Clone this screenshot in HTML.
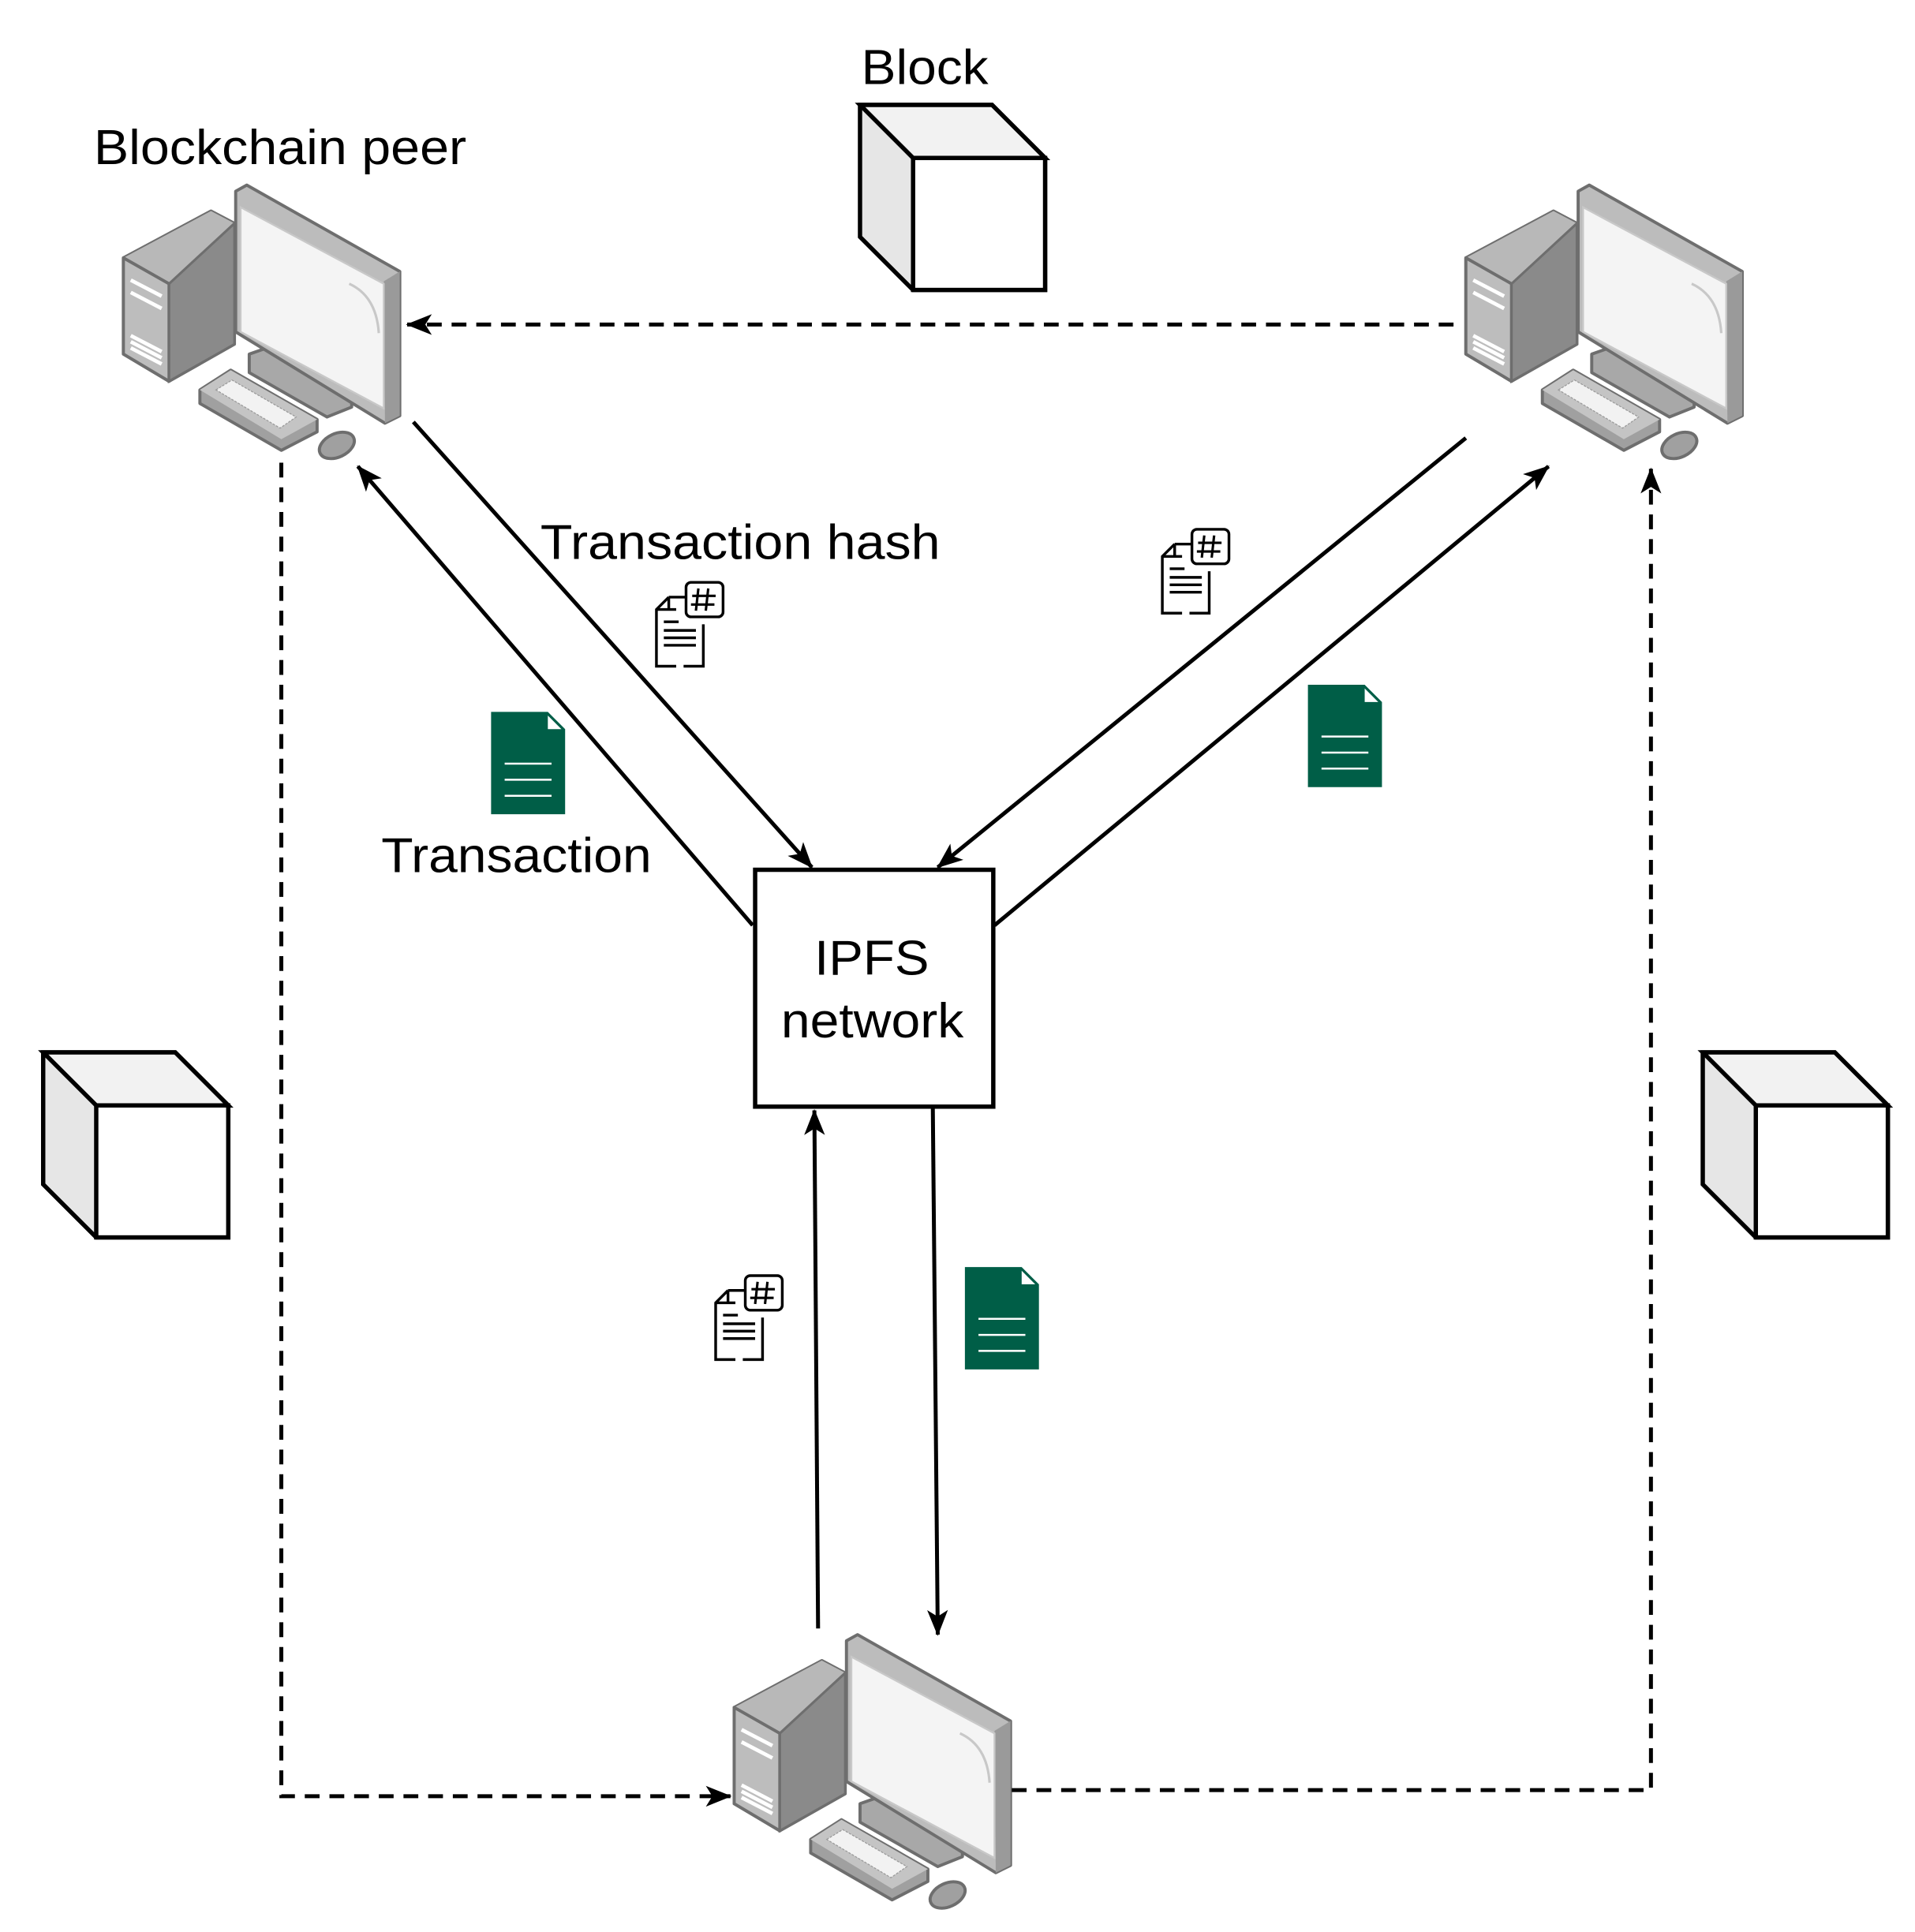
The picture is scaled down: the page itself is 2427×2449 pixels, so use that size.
<!DOCTYPE html>
<html><head><meta charset="utf-8"><style>html,body{margin:0;padding:0;background:#fff}svg{display:block}</style></head><body>
<svg width="2427" height="2449" viewBox="0 0 1552 1566" xmlns="http://www.w3.org/2000/svg" font-family="Liberation Sans, sans-serif">
<defs>
<marker id="ah" viewBox="0 0 20 16" refX="19" refY="8" markerWidth="21" markerHeight="17" markerUnits="userSpaceOnUse" orient="auto" overflow="visible">
<path d="M0,0 L20,8 L0,16 L5,8 Z" fill="#000"/>
</marker>
<g id="pc">
<path d="M0,59 L71,21 L90,31 L90,129 L37,159 L0,137 Z" fill="#8c8c8c" stroke="#6e6e6e" stroke-width="2.5" stroke-linejoin="round"/>
<path d="M0,59 L71,21 L90,31 L37,80 Z" fill="#b8b8b8"/>
<path d="M0,59 L37,80 L37,159 L0,137 Z" fill="#bdbdbd" stroke="#6e6e6e" stroke-width="2.5" stroke-linejoin="round"/>
<path d="M37,80 L90,31 L90,129 L37,159 Z" fill="#8a8a8a" stroke="#6e6e6e" stroke-width="2"/>
<g stroke="#fff" stroke-width="3"><path d="M6,77 L31,90"/><path d="M6,87 L31,100"/><path d="M6,122 L31,135"/><path d="M6,127 L31,140"/><path d="M6,132 L31,145"/></g>
<path d="M102,137 L122,130 L185,167 L185,180 L165,188 L102,152 Z" fill="#a8a8a8" stroke="#6e6e6e" stroke-width="2.5" stroke-linejoin="round"/>
<path d="M91,5 L100,0 L224,70 L224,187 L212,193 L91,119 Z" fill="#bcbcbc" stroke="#6e6e6e" stroke-width="2.5" stroke-linejoin="round"/>
<path d="M211,78 L224,70 L224,187 L212,193 Z" fill="#9a9a9a"/>
<path d="M95,18 L211,80 L211,181 L95,119 Z" fill="#f4f4f4" stroke="#c8c8c8" stroke-width="1.5"/>
<path d="M183,80 Q205,90 207,120" fill="none" stroke="#c8c8c8" stroke-width="2"/>
<path d="M62,166 L87,150 L157,190 L157,200 L128,215 L62,177 Z" fill="#a0a0a0" stroke="#6e6e6e" stroke-width="2.5" stroke-linejoin="round"/>
<path d="M62,166 L87,150 L157,190 L128,206 Z" fill="#c4c4c4"/>
<path d="M75,166 L88,158 L140,188 L127,197 Z" fill="#f2f2f2" stroke="#9a9a9a" stroke-width="0.8" stroke-dasharray="2 1"/>
<ellipse cx="173" cy="211" rx="15" ry="9.5" transform="rotate(-25 173 211)" fill="#a0a0a0" stroke="#6e6e6e" stroke-width="2.5"/>
</g>
<g id="hd" fill="none" stroke="#000" stroke-width="2.2">
<path d="M14,14 L4,24 L4,70 L20,70 M26,70 L42,70 L42,36"/>
<path d="M14,14 L14,24 L4,24 M14,14 L28,14 M14,24 L20,24"/>
<rect x="28" y="2" width="30" height="28" rx="4" fill="#fff"/>
<path d="M38,7 L36,25 M46,7 L44,25 M33,13 L52,13 M32,20 L51,20" stroke-width="2"/>
<path d="M10,34 L22,34 M10,41 L36,41 M10,47 L36,47 M10,53 L36,53"/>
</g>
<g id="gd">
<path d="M0,0 L46,0 L60,14 L60,83 L0,83 Z" fill="#005e47"/>
<path d="M46,3 L57,14 L46,14 Z" fill="#fff"/>
<g stroke="#fff" stroke-width="1.6"><path d="M11,42 L49,42 M11,55 L49,55 M11,68 L49,68"/></g>
</g>
<g id="cube" stroke="#000" stroke-width="3.5" stroke-linejoin="miter">
<path d="M0,0 L107,0 L150,43 L150,150 L43,150 L0,107 Z" fill="#e6e6e6"/>
<path d="M0,0 L107,0 L150,43 L43,43 Z" fill="#f2f2f2"/>
<rect x="43" y="43" width="107" height="107" fill="#fff"/>
</g>
</defs>
<use href="#pc" x="100" y="150"/>
<use href="#pc" x="1188" y="150"/>
<use href="#pc" x="595" y="1325"/>
<use href="#cube" x="697" y="85"/>
<use href="#cube" x="35" y="853"/>
<use href="#cube" x="1380" y="853"/>
<rect x="612" y="705" width="193" height="192" fill="#fff" stroke="#000" stroke-width="3.5"/>
<text x="660" y="790" font-size="40" textLength="93" lengthAdjust="spacingAndGlyphs">IPFS</text>
<text x="633" y="841" font-size="40" textLength="148" lengthAdjust="spacingAndGlyphs">network</text>
<g stroke="#000" stroke-width="3.2" fill="none" marker-end="url(#ah)">
<path d="M335,342 L658,703"/>
<path d="M610,750 L290,378"/>
<path d="M1188,355 L760,703"/>
<path d="M806,750 L1255,378"/>
<path d="M663,1320 L660,900"/>
<path d="M756,898 L760,1325"/>
</g>
<g stroke="#000" stroke-width="3.2" fill="none" stroke-dasharray="12 8" marker-end="url(#ah)">
<path d="M1178,263 L330,263"/>
<path d="M228,375 L228,1456 L592,1456"/>
<path d="M820,1451 L1338,1451 L1338,380"/>
</g>
<text x="76" y="133" font-size="40" textLength="302" lengthAdjust="spacingAndGlyphs">Blockchain peer</text>
<text x="698" y="68" font-size="40" textLength="103" lengthAdjust="spacingAndGlyphs">Block</text>
<text x="438" y="453" font-size="40" textLength="324" lengthAdjust="spacingAndGlyphs">Transaction hash</text>
<text x="309" y="707" font-size="40" textLength="219" lengthAdjust="spacingAndGlyphs">Transaction</text>
<use href="#hd" x="528" y="470"/>
<use href="#hd" x="938" y="427"/>
<use href="#hd" x="576" y="1032"/>
<use href="#gd" x="398" y="577"/>
<use href="#gd" x="1060" y="555"/>
<use href="#gd" x="782" y="1027"/>
</svg>
</body></html>
